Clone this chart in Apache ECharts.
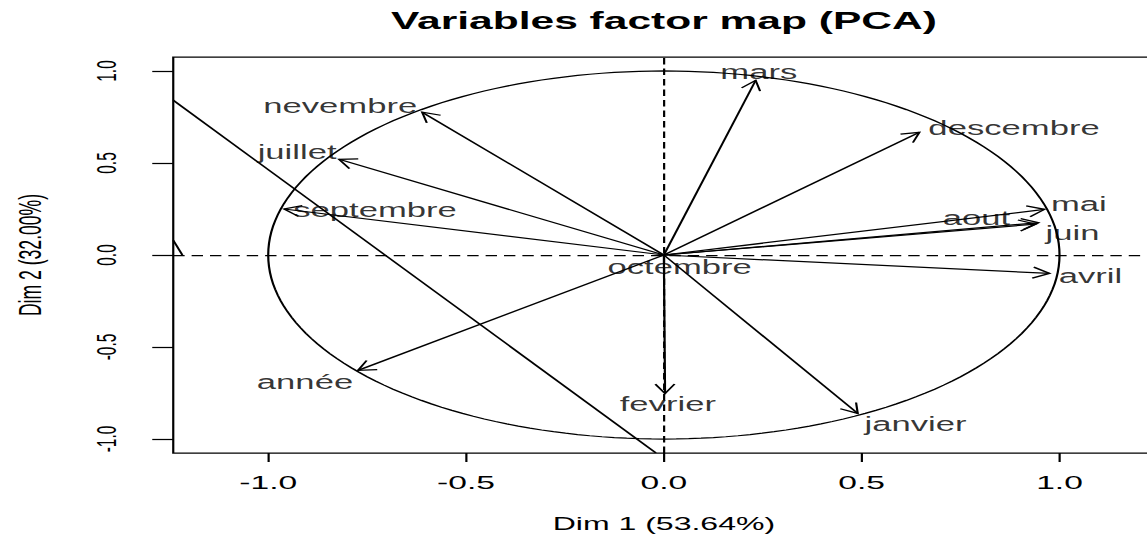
<!DOCTYPE html>
<html>
<head>
<meta charset="utf-8">
<script src="https://cdn.jsdelivr.net/npm/echarts@6/dist/echarts.min.js"></script>
<style>
  html, body { margin: 0; padding: 0; background: #fff; overflow: hidden; width: 1147px; height: 541px; }
  #chart { width: 661px; height: 541px; transform: scaleX(1.75); transform-origin: 0 0; }
</style>
</head>
<body>
<div id="chart"></div>
<script>
// ---- data ----
const varNames = ['mars', 'descembre', 'mai', 'aout', 'juin', 'avril', 'janvier', 'fevrier', 'octembre', 'année', 'septembre', 'juillet', 'nevembre'];
const dim1 = [0.232, 0.646, 0.962, 0.940, 0.947, 0.975, 0.490, 0.003, 0.004, -0.773, -0.960, -0.821, -0.611];
const dim2 = [0.949, 0.667, 0.248, 0.168, 0.176, -0.100, -0.861, -0.753, -0.004, -0.627, 0.250, 0.520, 0.776];
const labelX = [0.240, 0.885, 1.049, 0.790, 1.033, 1.078, 0.636, 0.010, 0.040, -0.907, -0.730, -0.927, -0.818];
const labelY = [0.993, 0.689, 0.276, 0.200, 0.118, -0.116, -0.920, -0.811, -0.067, -0.692, 0.243, 0.558, 0.808];
const extraLineX = [[-1.24, -0.02], [-1.24, -1.217]];
const extraLineY = [[0.841, -1.076], [0.080, 0.000]];
const xTickValues = [-1, -0.5, 0, 0.5, 1];
const yTickValues = [-1, -0.5, 0, 0.5, 1];
const circleRadius = 1;
const titleText = 'Variables factor map (PCA)';
const xTitle = 'Dim 1 (53.64%)';
const yTitle = 'Dim 2 (32.00%)';

const FONT = 'Liberation Sans, Arial, Helvetica, sans-serif';
const LW = 1.25;

const chart = echarts.init(document.getElementById('chart'), null, { renderer: 'svg' });

function arrowItem(params, api) {
  const o = api.coord([0, 0]);
  const t = api.coord([api.value(0), api.value(1)]);
  const dx = t[0] - o[0], dy = t[1] - o[1];
  if (Math.hypot(dx, dy) < 3) return null;
  const a = Math.atan2(dy, dx), h = 11, ang = Math.PI / 6;
  const p1 = [t[0] - h * Math.cos(a - ang), t[1] - h * Math.sin(a - ang)];
  const p2 = [t[0] - h * Math.cos(a + ang), t[1] - h * Math.sin(a + ang)];
  return {
    type: 'group',
    children: [
      { type: 'line', shape: { x1: o[0], y1: o[1], x2: t[0], y2: t[1] }, style: { stroke: '#000', lineWidth: LW } },
      { type: 'polyline', shape: { points: [p1, t, p2] }, style: { stroke: '#000', fill: null, lineWidth: LW } }
    ]
  };
}

function circleItem(params, api) {
  const r = api.value(2);
  const cx = api.value(0), cy = api.value(1);
  const pts = [];
  for (let k = 0; k <= 200; k++) {
    const th = k / 200 * 2 * Math.PI;
    pts.push(api.coord([cx + r * Math.cos(th), cy + r * Math.sin(th)]));
  }
  return { type: 'polyline', shape: { points: pts }, style: { stroke: '#000', fill: null, lineWidth: LW } };
}

function segItem(params, api) {
  const a = api.coord([api.value(0), api.value(1)]);
  const b = api.coord([api.value(2), api.value(3)]);
  return { type: 'line', shape: { x1: a[0], y1: a[1], x2: b[0], y2: b[1] }, style: { stroke: '#000', lineWidth: LW } };
}

const option = {
  animation: false,
  backgroundColor: '#fff',
  title: {
    text: titleText,
    left: 379.4,
    top: 9,
    padding: 0,
    textAlign: 'center',
    textStyle: { fontFamily: FONT, fontWeight: 'bold', fontSize: 24.3, color: '#000' }
  },
  grid: {
    left: 98.7, right: 1.3, top: 57, bottom: 88,
    show: true, borderColor: '#000', borderWidth: LW, backgroundColor: 'transparent'
  },
  xAxis: {
    type: 'value', min: -1.24, max: 1.24, position: 'bottom',
    name: xTitle, nameLocation: 'middle', nameGap: 62,
    nameTextStyle: { fontFamily: FONT, fontSize: 18.3, color: '#000' },
    axisLine: { show: false, onZero: false },
    splitLine: { show: false },
    axisTick: { show: true, customValues: xTickValues, length: 9, lineStyle: { color: '#000', width: LW } },
    axisLabel: { customValues: xTickValues, margin: 20, fontFamily: FONT, fontSize: 19.2, color: '#000',
      formatter: v => v.toFixed(1) }
  },
  yAxis: {
    type: 'value', min: -1.076, max: 1.076, position: 'left',
    name: yTitle, nameLocation: 'middle', nameGap: 73, nameRotate: 90,
    nameTextStyle: { fontFamily: FONT, fontSize: 17.6, color: '#000' },
    axisLine: { show: false, onZero: false },
    splitLine: { show: false },
    axisTick: { show: true, customValues: yTickValues, length: 12, lineStyle: { color: '#000', width: LW } },
    axisLabel: { customValues: yTickValues, margin: 30, rotate: 90, fontFamily: FONT, fontSize: 15.5, color: '#000',
      formatter: v => v.toFixed(1) }
  },
  series: [
    {
      type: 'custom', name: 'circle', clip: true,
      renderItem: circleItem,
      encode: { x: 0, y: 1 },
      data: [[0, 0, circleRadius]],
      silent: true,
      markLine: {
        silent: true, symbol: ['none', 'none'], label: { show: false },
        lineStyle: { color: '#000', width: LW, type: [6.5, 4] },
        data: [{ xAxis: 0 }, { yAxis: 0 }]
      }
    },
    {
      type: 'custom', name: 'extra', clip: true,
      renderItem: segItem,
      encode: { x: [0, 2], y: [1, 3] },
      data: extraLineX.map((xs, i) => [xs[0], extraLineY[i][0], xs[1], extraLineY[i][1]]),
      silent: true
    },
    {
      type: 'custom', name: 'arrows', clip: true,
      renderItem: arrowItem,
      encode: { x: 0, y: 1 },
      data: varNames.map((n, i) => ({ name: n, value: [dim1[i], dim2[i]] })),
      silent: true
    },
    {
      type: 'scatter', name: 'labels',
      symbolSize: 0,
      data: varNames.map((n, i) => ({ name: n, value: [labelX[i], labelY[i]] })),
      label: {
        show: true, position: 'inside', formatter: '{b}',
        fontFamily: FONT, fontSize: 19.8, color: '#000'
      },
      silent: true
    }
  ]
};
chart.setOption(option);
</script>
</body>
</html>
